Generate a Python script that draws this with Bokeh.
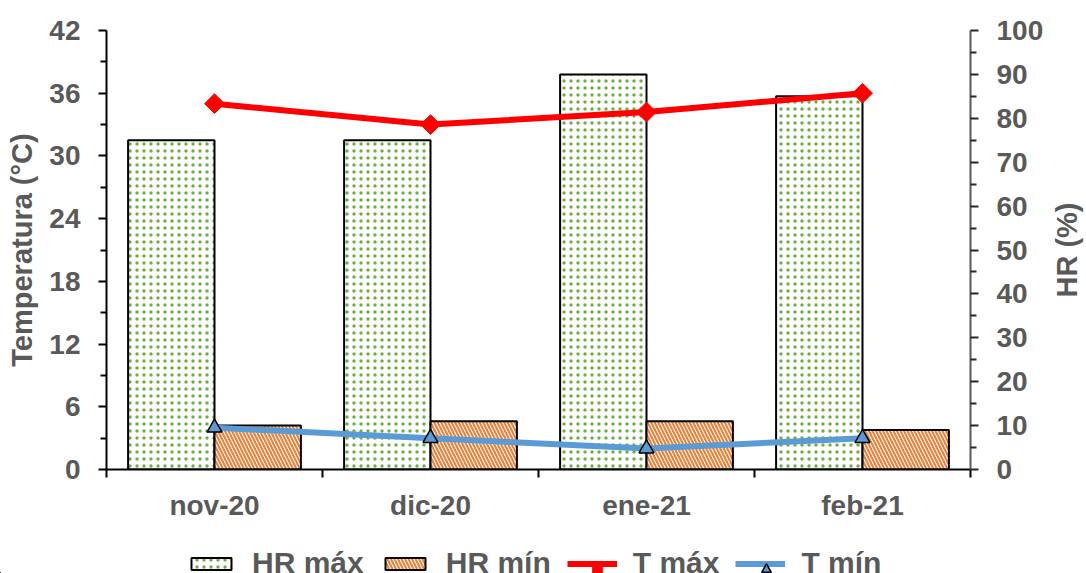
import math
from bokeh.plotting import figure
from bokeh.layouts import column, row
from bokeh.models import (Range1d, LinearAxis, FixedTicker, Legend, LegendItem,
                          ColumnDataSource, Label)
from bokeh.embed import file_html
from bokeh.resources import INLINE

# ---- data ----
months = ["nov-20", "dic-20", "ene-21", "feb-21"]
hr_max = [75, 75, 90, 85]
hr_min = [10, 11, 11, 9]
t_max = [35.0, 33.0, 34.2, 36.0]
t_min = [4.0, 3.0, 2.0, 3.0]
temp_ticks = [0, 6, 12, 18, 24, 30, 36, 42]
hr_ticks = [0, 10, 20, 30, 40, 50, 60, 70, 80, 90, 100]
series_names = ["HR máx", "HR mín", "T máx", "T mín"]
temp_title = "Temperatura (°C)"
hr_title = "HR (%)"

FONT = "Liberation Sans"
GREY = "#595959"

idx = list(range(len(months)))
src = ColumnDataSource(dict(
    x=idx,
    x_hmax=[i - 0.2 for i in idx],
    x_hmin=[i + 0.2 for i in idx],
    hr_max=hr_max, hr_min=hr_min, t_max=t_max, t_min=t_min,
))

# ---- styles ----
bar_max_style = dict(fill_color="white", hatch_pattern="dot", hatch_color="#70AD47",
                     hatch_scale=7, hatch_weight=1, line_color="black", line_width=2)
bar_min_style = dict(fill_color="white", hatch_pattern="left_diagonal_line",
                     hatch_color="#ED7D31", hatch_scale=7, hatch_weight=2,
                     line_color="black", line_width=2)
tmax_line = dict(line_color="#FF0000", line_width=6)
tmax_mark = dict(marker="square", angle=math.pi / 4, size=14,
                 fill_color="#FF0000", line_color="#FF0000")
tmin_line = dict(line_color="#5B9BD5", line_width=6)
tmin_mark = dict(marker="triangle", size=15, fill_color="#5B9BD5",
                 line_color="black", line_width=1.5)

p = figure(width=1046, height=530, output_backend="svg", toolbar_location=None,
           x_range=Range1d(-0.5, len(months) - 0.5),
           y_range=Range1d(temp_ticks[0], temp_ticks[-1]),
           min_border_left=106, min_border_right=76,
           min_border_top=30, min_border_bottom=61)
p.extra_y_ranges = {"hr": Range1d(hr_ticks[0], hr_ticks[-1])}
p.outline_line_color = None
p.xgrid.visible = False
p.ygrid.visible = False

# bars
p.vbar(x="x_hmax", top="hr_max", bottom=0, width=0.4, source=src, y_range_name="hr",
       **bar_max_style)
p.vbar(x="x_hmin", top="hr_min", bottom=0, width=0.4, source=src, y_range_name="hr",
       **bar_min_style)

# lines
p.line(x="x", y="t_max", source=src, **tmax_line)
p.scatter(x="x", y="t_max", source=src, **tmax_mark)
p.line(x="x", y="t_min", source=src, **tmin_line)
p.scatter(x="x", y="t_min", source=src, **tmin_mark)

# left axis
ya = p.yaxis[0]
ya.ticker = FixedTicker(ticks=temp_ticks, minor_ticks=[t + 3 for t in temp_ticks[:-1]])
ya.axis_label = temp_title

# right axis (title drawn in the side strip)
ra = LinearAxis(y_range_name="hr",
                ticker=FixedTicker(ticks=hr_ticks, minor_ticks=[t + 5 for t in hr_ticks[:-1]]))
p.add_layout(ra, "right")

# x axis
xa = p.xaxis[0]
xa.ticker = FixedTicker(ticks=idx, minor_ticks=[i - 0.5 for i in range(len(months) + 1)])
xa.major_label_overrides = {i: m for i, m in enumerate(months)}
xa.major_tick_out = 0
xa.major_tick_in = 0
xa.minor_tick_out = 8
xa.minor_tick_in = 0
xa.major_label_standoff = 12

for ax in (ya, ra, xa):
    ax.major_label_text_font = FONT
    ax.major_label_text_font_style = "bold"
    ax.major_label_text_font_size = "28px"
    ax.major_label_text_color = GREY
    ax.axis_label_text_font = FONT
    ax.axis_label_text_font_style = "bold"
    ax.axis_label_text_font_size = "29px"
    ax.axis_label_text_color = GREY
    ax.axis_line_width = 2
    ax.major_tick_line_width = 2
    ax.minor_tick_line_width = 2

for ax in (ya, ra):
    ax.major_tick_out = 8
    ax.major_tick_in = 0
    ax.minor_tick_out = 6
    ax.minor_tick_in = 0
    ax.major_label_standoff = 18
    ax.axis_label_standoff = 8

ya.axis_line_color = "black"
ya.major_tick_line_color = "black"
ya.minor_tick_line_color = "black"
ra.axis_line_color = "#595959"
ra.major_tick_line_color = "#262626"
ra.minor_tick_line_color = "#262626"
xa.axis_line_color = "black"
xa.minor_tick_line_color = "black"

# ---- right title strip ----
pt = figure(width=40, height=530, output_backend="svg", toolbar_location=None,
            x_range=Range1d(0, 1), y_range=Range1d(0, 1),
            x_axis_type=None, y_axis_type=None, min_border=0)
pt.outline_line_color = None
pt.xgrid.visible = False
pt.ygrid.visible = False
pt.add_layout(Label(x=0.5, y=0.5, text=hr_title, angle=math.pi / 2,
                    text_align="center", text_baseline="middle",
                    text_font=FONT, text_font_style="bold", text_font_size="29px",
                    text_color=GREY))

# ---- legend strip (renderers share the data but lie outside the strip's view) ----
pl = figure(width=1086, height=43, output_backend="svg", toolbar_location=None,
            x_range=Range1d(1000, 1001), y_range=Range1d(1000, 1001),
            x_axis_type=None, y_axis_type=None, min_border=0)
pl.outline_line_color = None
pl.xgrid.visible = False
pl.ygrid.visible = False
r1 = pl.vbar(x="x_hmax", top="hr_max", bottom=0, width=0.4, source=src, **bar_max_style)
r2 = pl.vbar(x="x_hmin", top="hr_min", bottom=0, width=0.4, source=src, **bar_min_style)
r3a = pl.line(x="x", y="t_max", source=src, **tmax_line)
r3b = pl.scatter(x="x", y="t_max", source=src, **tmax_mark)
r4a = pl.line(x="x", y="t_min", source=src, **tmin_line)
r4b = pl.scatter(x="x", y="t_min", source=src, **tmin_mark)

legend = Legend(items=[
    LegendItem(label=series_names[0], renderers=[r1]),
    LegendItem(label=series_names[1], renderers=[r2]),
    LegendItem(label=series_names[2], renderers=[r3a]),
    LegendItem(label=series_names[3], renderers=[r4a]),
], orientation="horizontal", location=(186, -7), margin=0, padding=0,
    spacing=16, glyph_width=50, glyph_height=15, label_standoff=16,
    label_text_font=FONT, label_text_font_style="bold", label_text_font_size="30px",
    label_text_color=GREY, background_fill_alpha=0, border_line_color=None)
pl.add_layout(legend, "center")

# larger legend markers, centred on the T máx / T mín legend lines
for rend, lx in ((r3b, 585), (r4b, 754)):
    pl.add_layout(Legend(items=[LegendItem(label="", renderers=[rend])],
                         orientation="horizontal", location=(lx, -13), margin=0, padding=0,
                         glyph_width=24, glyph_height=34, label_standoff=0,
                         label_width=0, label_height=34, label_text_font_size="30px",
                         background_fill_alpha=0, border_line_color=None), "center")

layout = column(row(p, pt, spacing=0), pl, spacing=0)
open("out.html", "w").write(file_html(layout, INLINE))
